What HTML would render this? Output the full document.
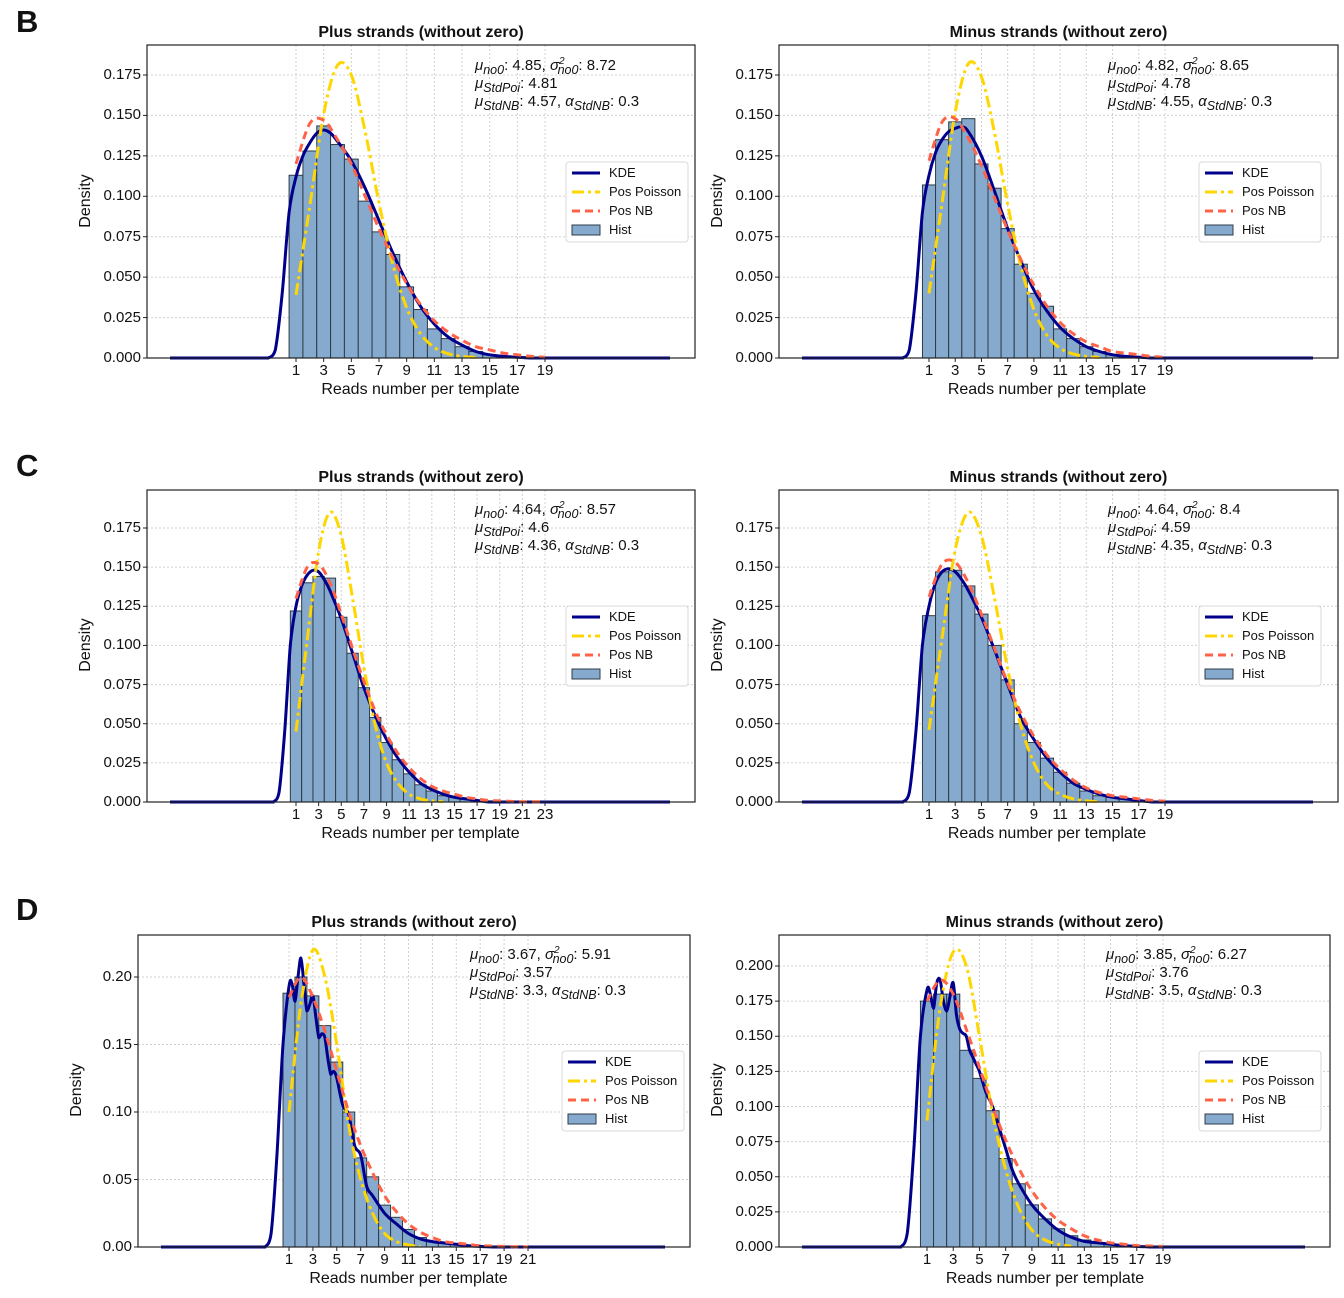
<!DOCTYPE html>
<html><head><meta charset="utf-8">
<style>
body{margin:0;background:#fff;width:1344px;height:1298px;overflow:hidden;position:relative;font-family:"Liberation Sans",sans-serif}
.t{position:absolute;white-space:nowrap;color:#111}
.t sub,.t sup{line-height:0}
svg{position:absolute;left:0;top:0}
</style></head><body>
<svg id="svg" width="1344" height="1298"></svg>
<div id="ov"></div>
<script>
// ---- data ----
const kdeXStd = [-1,-0.5,0,0.5,1,1.5,2,2.5,3,3.5,4,5,6,7,8,9,10,11,12,13,14,15,16,18];
const kdeXWig = [-1,-0.5,0,0.5,1,1.25,1.5,1.75,2,2.25,2.5,2.75,3,3.25,3.5,3.75,4,4.25,4.5,4.75,5,5.5,6,6.5,7,7.5,8,9,10,11,12,13,14,15,16,18];

const barsBPlus = [0.113,0.128,0.1435,0.132,0.123,0.097,0.078,0.064,0.044,0.030,0.018,0.012,0.007,0.004,0.002,0.0013,0.0008,0.0005,0.0003];
const poiBPlus = [0.039,0.094,0.151,0.181,0.175,0.140,0.096,0.058,0.031,0.015,0.0065,0.0026,0.001,0.0003];
const nbBPlus = [0.120,0.145,0.147,0.135,0.120,0.100,0.080,0.062,0.046,0.033,0.023,0.016,0.011,0.007,0.005,0.003,0.002,0.001,0.0005];
const kdeBPlus = [0,0.005,0.04,0.09,0.112,0.125,0.133,0.139,0.141,0.139,0.134,0.122,0.105,0.085,0.065,0.047,0.032,0.021,0.013,0.008,0.004,0.002,0.001,0];

const barsBMinus = [0.107,0.135,0.146,0.148,0.120,0.105,0.080,0.058,0.040,0.032,0.018,0.012,0.007,0.004,0.002,0.001,0.0007,0.0004,0.0002];
const poiBMinus = [0.040,0.096,0.152,0.182,0.174,0.139,0.095,0.057,0.030,0.014,0.006,0.0025,0.001,0.0003];
const nbBMinus = [0.122,0.146,0.148,0.136,0.119,0.099,0.079,0.061,0.045,0.032,0.022,0.015,0.010,0.007,0.004,0.003,0.002,0.001,0.0005];
const kdeBMinus = [0,0.005,0.04,0.09,0.113,0.127,0.135,0.14,0.142,0.143,0.14,0.125,0.103,0.08,0.06,0.042,0.029,0.019,0.012,0.007,0.004,0.002,0.001,0];

const barsCPlus = [0.122,0.140,0.144,0.143,0.118,0.095,0.073,0.054,0.038,0.027,0.018,0.011,0.007,0.004,0.003,0.002,0.001,0.0007,0.0005,0.0003,0.0002,0.0001,0.0001];
const poiCPlus = [0.045,0.104,0.160,0.185,0.170,0.130,0.086,0.049,0.025,0.012,0.005,0.002,0.0007,0.0002];
const nbCPlus = [0.130,0.150,0.152,0.140,0.120,0.098,0.077,0.058,0.043,0.031,0.022,0.015,0.010,0.007,0.005,0.003,0.002,0.001,0.0007,0.0004,0.0002,0.0001,0.0001];
const kdeCPlus = [0,0.006,0.045,0.1,0.125,0.138,0.145,0.148,0.147,0.142,0.135,0.117,0.095,0.073,0.055,0.04,0.028,0.019,0.012,0.008,0.005,0.003,0.002,0];

const barsCMinus = [0.119,0.147,0.148,0.138,0.120,0.100,0.078,0.050,0.038,0.028,0.019,0.012,0.007,0.004,0.003,0.002,0.001,0.0006,0.0003];
const poiCMinus = [0.046,0.105,0.161,0.185,0.170,0.130,0.085,0.049,0.025,0.011,0.005,0.002,0.0007,0.0002];
const nbCMinus = [0.131,0.152,0.153,0.140,0.120,0.098,0.076,0.057,0.042,0.030,0.021,0.014,0.009,0.006,0.004,0.003,0.002,0.001,0.0005];
const kdeCMinus = [0,0.006,0.045,0.1,0.125,0.14,0.147,0.149,0.147,0.142,0.135,0.118,0.097,0.075,0.054,0.04,0.028,0.019,0.012,0.008,0.005,0.003,0.002,0];

const barsDPlus = [0.188,0.200,0.186,0.164,0.137,0.100,0.066,0.052,0.031,0.022,0.013,0.007,0.004,0.003,0.002,0.001,0.0007,0.0004,0.0003,0.0002,0.0001];
const poiDPlus = [0.100,0.180,0.220,0.200,0.150,0.090,0.050,0.025,0.010,0.004,0.0015,0.0005];
const nbDPlus = [0.185,0.200,0.185,0.160,0.130,0.100,0.075,0.055,0.038,0.026,0.017,0.011,0.007,0.004,0.003,0.002,0.001,0.0007,0.0004,0.0002,0.0001];
const kdeDPlus = [0,0.01,0.07,0.15,0.193,0.195,0.182,0.2,0.214,0.195,0.175,0.18,0.186,0.17,0.155,0.158,0.155,0.14,0.128,0.13,0.125,0.105,0.098,0.075,0.068,0.045,0.038,0.025,0.017,0.01,0.006,0.004,0.003,0.002,0.001,0];

const barsDMinus = [0.175,0.180,0.180,0.140,0.120,0.097,0.063,0.045,0.030,0.020,0.013,0.008,0.005,0.003,0.002,0.001,0.0007,0.0004,0.0002];
const poiDMinus = [0.090,0.170,0.210,0.200,0.150,0.095,0.055,0.028,0.012,0.005,0.002,0.0006];
const nbDMinus = [0.175,0.190,0.180,0.155,0.128,0.100,0.076,0.056,0.040,0.028,0.019,0.013,0.008,0.005,0.003,0.002,0.001,0.0007,0.0004];
const kdeDMinus = [0,0.01,0.07,0.15,0.183,0.18,0.17,0.188,0.19,0.175,0.168,0.178,0.188,0.165,0.155,0.152,0.15,0.14,0.135,0.13,0.125,0.11,0.1,0.085,0.07,0.055,0.045,0.03,0.02,0.012,0.007,0.004,0.003,0.002,0.001,0];

const yTicksA = [0,0.025,0.05,0.075,0.1,0.125,0.15,0.175];
const yTicksD = [0,0.05,0.1,0.15,0.2];
const yTicksD2 = [0,0.025,0.05,0.075,0.1,0.125,0.15,0.175,0.2];

// ---- layout ----
const panels = [
 {id:'b-plus',L:147,R:695,T:45,B:358,x1:296,xN:545,tN:19,yv:0.175,yp:75,yt:yTicksA,dec:3,title:'Plus strands (without zero)',
  bars:barsBPlus,poi:poiBPlus,nb:nbBPlus,kx:kdeXStd,ky:kdeBPlus,ann:['4.85','8.72','4.81','4.57'],ax:475,ay:57,lx:566,ly:162},
 {id:'b-minus',L:779,R:1338,T:45,B:358,x1:929,xN:1165,tN:19,yv:0.175,yp:75,yt:yTicksA,dec:3,title:'Minus strands (without zero)',
  bars:barsBMinus,poi:poiBMinus,nb:nbBMinus,kx:kdeXStd,ky:kdeBMinus,ann:['4.82','8.65','4.78','4.55'],ax:1108,ay:57,lx:1199,ly:162},
 {id:'c-plus',L:147,R:695,T:490,B:802,x1:296,xN:545,tN:23,yv:0.175,yp:528,yt:yTicksA,dec:3,title:'Plus strands (without zero)',
  bars:barsCPlus,poi:poiCPlus,nb:nbCPlus,kx:kdeXStd,ky:kdeCPlus,ann:['4.64','8.57','4.6','4.36'],ax:475,ay:501,lx:566,ly:606},
 {id:'c-minus',L:779,R:1338,T:490,B:802,x1:929,xN:1165,tN:19,yv:0.175,yp:528,yt:yTicksA,dec:3,title:'Minus strands (without zero)',
  bars:barsCMinus,poi:poiCMinus,nb:nbCMinus,kx:kdeXStd,ky:kdeCMinus,ann:['4.64','8.4','4.59','4.35'],ax:1108,ay:501,lx:1199,ly:606},
 {id:'d-plus',L:138,R:690,T:935,B:1247,x1:289,xN:528,tN:21,yv:0.2,yp:977,yt:yTicksD,dec:2,title:'Plus strands (without zero)',
  bars:barsDPlus,poi:poiDPlus,nb:nbDPlus,kx:kdeXWig,ky:kdeDPlus,ann:['3.67','5.91','3.57','3.3'],ax:470,ay:946,lx:562,ly:1051},
 {id:'d-minus',L:779,R:1330,T:935,B:1247,x1:927,xN:1163,tN:19,yv:0.2,yp:966,yt:yTicksD2,dec:3,title:'Minus strands (without zero)',
  bars:barsDMinus,poi:poiDMinus,nb:nbDMinus,kx:kdeXWig,ky:kdeDMinus,ann:['3.85','6.27','3.76','3.5'],ax:1106,ay:946,lx:1199,ly:1051}
];

const NS='http://www.w3.org/2000/svg';
const svg=document.getElementById('svg');
const ov=document.getElementById('ov');
function mk(tag,attrs,parent){const e=document.createElementNS(NS,tag);for(const k in attrs)e.setAttribute(k,attrs[k]);(parent||svg).appendChild(e);return e;}
function txt(html,x,y,style){const d=document.createElement('div');d.className='t';d.innerHTML=html;d.style.cssText+='left:'+x+'px;top:'+y+'px;'+(style||'');ov.appendChild(d);return d;}
function smooth(pts){let d='';
 for(let i=0;i<pts.length-1;i++){const p0=pts[i-1]||pts[i],p1=pts[i],p2=pts[i+1],p3=pts[i+2]||p2;
  const c1=[p1[0]+(p2[0]-p0[0])/6,p1[1]+(p2[1]-p0[1])/6],c2=[p2[0]-(p3[0]-p1[0])/6,p2[1]-(p3[1]-p1[1])/6];
  c1[0]=Math.min(c1[0],p2[0]);c2[0]=Math.max(c2[0],p1[0]);
  c1[1]=Math.min(c1[1],Math.max(p1[1],p2[1]));c2[1]=Math.min(c2[1],Math.max(p1[1],p2[1]));
  d+=' C'+c1.map(v=>v.toFixed(1))+' '+c2.map(v=>v.toFixed(1))+' '+p2.map(v=>v.toFixed(1));}
 return d;}

[['B',24],['C',468],['D',912]].forEach(([l,y])=>{const e=txt(l,16,y-20,'font-size:31px;font-weight:bold;');

});

panels.forEach(p=>{
 const unit=(p.xN-p.x1)/(p.tN-1);
 const X=v=>p.x1+(v-1)*unit;
 const Y=v=>p.B-(v/p.yv)*(p.B-p.yp);
 const g=mk('g',{});
 
 
 for(let t=1;t<=p.tN;t+=2){const l=mk('line',{x1:X(t),x2:X(t),y1:p.T,y2:p.B,stroke:'#d0d0d0','stroke-dasharray':'2,2','stroke-width':1},g);
  
  }
 p.yt.forEach(t=>{const l=mk('line',{x1:p.L,x2:p.R,y1:Y(t),y2:Y(t),stroke:'#d0d0d0','stroke-dasharray':'2,2','stroke-width':1},g);
  
  });
 p.bars.forEach((v,i)=>{const c=i+1;const r=mk('rect',{x:X(c-0.5),y:Y(v),width:unit,height:p.B-Y(v),fill:'#85aacd',stroke:'#2e3b48','stroke-width':1},g);
  
  });
 // KDE: flat tails + smooth core
 const kpts=p.kx.map((x,i)=>[X(x),Y(p.ky[i])]);
 const last=kpts[kpts.length-1];
 const kd='M'+(p.L+23)+','+p.B+' L'+kpts[0][0].toFixed(1)+','+kpts[0][1].toFixed(1)+smooth(kpts)+' L'+(p.R-25)+','+last[1].toFixed(1);
 const kp=mk('path',{d:kd,fill:'none',stroke:'#00008b','stroke-width':3},g);
 
 
 const ppts=p.poi.map((v,i)=>[X(i+1),Y(v)]);
 const pp=mk('path',{d:'M'+ppts[0]+smooth(ppts),fill:'none',stroke:'#ffd700','stroke-width':3,'stroke-dasharray':'12,4,3,4'},g);
 
 
 const npts=p.nb.map((v,i)=>[X(i+1),Y(v)]);
 const np=mk('path',{d:'M'+npts[0]+smooth(npts),fill:'none',stroke:'#ff6347','stroke-width':3,'stroke-dasharray':'8,5'},g);
 
 
 const fr=mk('rect',{x:p.L,y:p.T,width:p.R-p.L,height:p.B-p.T,fill:'none',stroke:'#222','stroke-width':1.2},g);
 
 
 for(let t=1;t<=p.tN;t+=2){mk('line',{x1:X(t),x2:X(t),y1:p.B,y2:p.B+4,stroke:'#222'},g);
  const e=txt(String(t),X(t)-15,p.B+4,'width:30px;text-align:center;font-size:15px;');
  
  }
 p.yt.forEach(t=>{mk('line',{x1:p.L-4,x2:p.L,y1:Y(t),y2:Y(t),stroke:'#222'},g);
  const e=txt(t.toFixed(p.dec),p.L-68,Y(t)-9,'width:62px;text-align:right;font-size:15px;');
  
  });
 const cx=(p.L+p.R)/2;
 const ti=txt(p.title,cx-200,p.T-21,'width:400px;text-align:center;font-size:16px;font-weight:bold;');
 
 
 const xl=txt('Reads number per template',X((p.tN+1)/2)-150,p.B+23,'width:300px;text-align:center;font-size:16px;');
 
 
 const yl=txt('Density',p.L-101,(p.T+p.B)/2-10,'width:80px;text-align:center;font-size:16px;transform:rotate(-90deg);');
 
 
 const a=p.ann;
 const an=txt('<i>μ<sub>no0</sub></i>: '+a[0]+', <i>σ<sup style="font-size:10px">2</sup><sub style="margin-left:-7px">no0</sub></i>: '+a[1]+'<br><i>μ<sub>StdPoi</sub></i>: '+a[2]+'<br><i>μ<sub>StdNB</sub></i>: '+a[3]+', <i>α<sub>StdNB</sub></i>: 0.3',p.ax,p.ay,'font-size:15px;line-height:18px;');
 
 
 const lg=mk('g',{},g);
 
 
 mk('rect',{x:p.lx,y:p.ly,width:122,height:80,rx:3,fill:'#fff','fill-opacity':0.85,stroke:'#d8d8d8'},lg);
 const items=[['KDE','#00008b',''],['Pos Poisson','#ffd700','12,4,3,4'],['Pos NB','#ff6347','8,5'],['Hist','','']];
 items.forEach((it,i)=>{const yy=p.ly+11+i*19;
  if(it[0]==='Hist'){mk('rect',{x:p.lx+6,y:yy-5,width:28,height:10,fill:'#85aacd',stroke:'#2e3b48'},lg);}
  else mk('line',{x1:p.lx+6,x2:p.lx+34,y1:yy,y2:yy,stroke:it[1],'stroke-width':3,'stroke-dasharray':it[2]||'none'},lg);
  const e=txt(it[0],p.lx+43,yy-8,'font-size:13px;');
  
  });
});
</script>
</body></html>
